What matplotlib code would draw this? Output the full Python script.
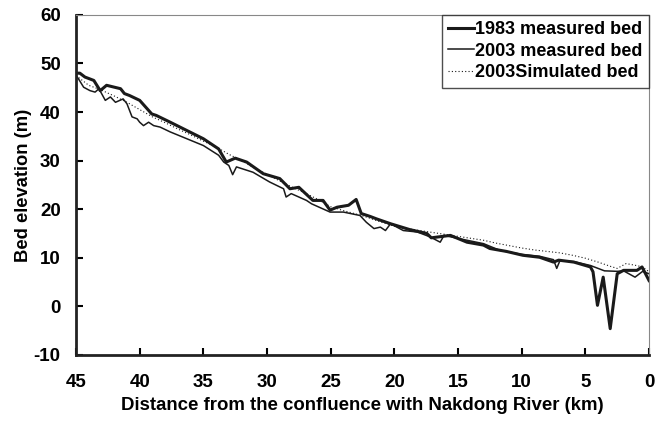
import numpy as np
import matplotlib
matplotlib.use('Agg')
import matplotlib.pyplot as plt

plt.rcParams['font.family'] = ['Liberation Sans', 'DejaVu Sans']
plt.rcParams['font.weight'] = 'bold'
plt.rcParams['axes.unicode_minus'] = False

# 1983 measured bed
d1983 = [45.0, 44.7, 44.3, 43.6, 43.1, 42.6, 41.5, 41.2, 40.8, 40.0, 39.05, 38.7, 37.6,
         36.3, 35.0, 33.8, 33.2, 32.5, 31.6, 30.3, 29.0, 28.2, 27.5, 26.4, 25.6, 25.05,
         24.5, 23.6, 23.0, 22.6, 21.9, 21.4, 20.3, 18.8, 17.45, 17.1, 15.6, 14.3, 13.0,
         12.5, 11.2, 9.9, 8.6, 7.5, 7.1, 5.9, 4.6, 4.4, 4.05, 3.6, 3.05, 2.5, 2.0, 0.95,
         0.55, 0.0]
e1983 = [48.0, 48.0, 47.2, 46.5, 44.4, 45.5, 44.8, 43.8, 43.4, 42.4, 39.6, 39.3, 37.9,
         36.2, 34.5, 32.4, 29.7, 30.5, 29.7, 27.3, 26.3, 24.2, 24.5, 21.8, 21.8, 19.8,
         20.4, 20.8, 22.0, 19.1, 18.5, 18.0, 17.0, 15.8, 15.0, 14.1, 14.6, 13.2, 12.6,
         11.9, 11.3, 10.5, 10.1, 9.1, 9.5, 9.1, 8.1, 7.1, 0.2, 6.0, -4.6, 6.7, 7.4, 7.4,
         8.1, 5.3]

# 2003 measured bed
d2003 = [45.0, 44.8, 44.4, 43.9, 43.5, 43.2, 42.7, 42.3, 41.9, 41.3, 41.0, 40.6, 40.2,
         40.0, 39.7, 39.3, 38.9, 38.4, 37.6, 36.3, 35.0, 33.8, 33.4, 33.0, 32.7, 32.4,
         31.1, 29.8, 28.7, 28.5, 28.1, 26.9, 26.5, 25.05, 24.0, 22.7, 22.2, 21.6, 21.1,
         20.7, 20.3, 19.3, 18.2, 17.2, 16.4, 16.1, 14.3, 13.0, 11.7, 10.0, 8.6, 7.5,
         7.25, 7.0, 5.9, 4.6, 3.5, 2.5, 2.0, 1.1, 0.5, 0.0]
e2003 = [47.5, 46.8, 45.1, 44.4, 44.1, 44.8, 42.4, 43.1, 42.0, 42.7, 41.7, 39.0, 38.6,
         37.9, 37.2, 37.9, 37.2, 36.9, 35.9, 34.5, 33.1, 31.1, 29.7, 29.0, 27.1, 28.7,
         27.6, 25.6, 24.2, 22.5, 23.2, 21.8, 21.1, 19.4, 19.4, 18.7, 17.3, 16.0, 16.3,
         15.6, 17.0, 15.6, 15.3, 14.3, 13.2, 14.6, 13.6, 12.9, 11.5, 10.7, 10.3, 9.6,
         7.8, 9.4, 9.2, 8.4, 7.3, 7.2, 7.3, 6.0, 7.2, 6.7]

# 2003 simulated bed
dsim = [45, 44, 43, 42, 41, 40, 39, 38, 37, 36, 35, 34, 33, 32, 31, 30, 29, 28, 27, 26,
        25, 24, 23, 22, 21, 20, 19, 18, 17, 16, 15, 14, 13, 12, 11, 10, 9, 8, 7, 6, 5,
        4, 3, 2.5, 1.8, 1, 0.5, 0]
esim = [47.5, 45.5, 44.5, 43.3, 42.0, 40.5, 39.0, 37.8, 36.5, 35.3, 34.0, 32.8, 31.3,
        30.0, 28.5, 27.2, 25.8, 24.5, 23.3, 22.0, 20.5, 19.7, 19.0, 18.2, 17.3, 16.5,
        16.0, 15.6, 15.2, 14.8, 14.4, 14.0, 13.6, 13.0, 12.5, 12.0, 11.6, 11.3, 11.0,
        10.5, 9.9, 9.1, 8.2, 7.8, 8.8, 8.4, 8.1, 7.1]

fig = plt.figure(figsize=(6.65, 4.25), dpi=100)
ax = fig.add_axes([0.1143, 0.165, 0.8617, 0.80])

ax.plot(d1983, e1983, color='#1a1a1a', linewidth=2.2, label='1983 measured bed')
ax.plot(d2003, e2003, color='#1a1a1a', linewidth=1.1, label='2003 measured bed')
ax.plot(dsim, esim, color='#1a1a1a', linewidth=0.8, linestyle=(0, (1, 2)),
        label='2003Simulated bed')

ax.set_xlim(45, 0)
ax.set_ylim(-10, 60)
ax.set_xticks(np.arange(45, -1, -5))
ax.set_yticks(np.arange(-10, 61, 10))

ax.tick_params(direction='in', length=5, width=1.5, labelsize=13.5, pad=11)
ax.tick_params(axis='x', pad=14)
for lab in ax.get_xticklabels() + ax.get_yticklabels():
    lab.set_fontweight('bold')

for s in ['left', 'bottom']:
    ax.spines[s].set_linewidth(2.0)
    ax.spines[s].set_color('#222222')
for s in ['top', 'right']:
    ax.spines[s].set_linewidth(0.8)
    ax.spines[s].set_color('#888888')

ax.set_xlabel('Distance from the confluence with Nakdong River (km)', fontsize=13.4,
              fontweight='bold', labelpad=4)
ax.set_ylabel('Bed elevation (m)', fontsize=13.2, fontweight='bold', labelpad=1)

leg = ax.legend(loc='upper right', bbox_to_anchor=(1.0, 1.0), borderaxespad=0,
                fancybox=False, handlelength=1.4, handletextpad=0.1,
                prop={'weight': 'bold', 'size': 13}, labelspacing=0.25,
                borderpad=0.35)
leg.get_frame().set_edgecolor('#222222')
leg.get_frame().set_linewidth(1.0)

fig.savefig('out.png', dpi=100)
